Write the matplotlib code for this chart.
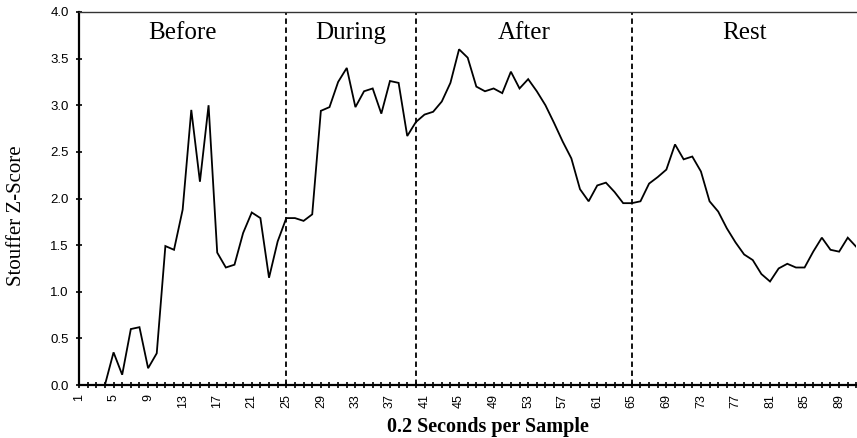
import matplotlib
matplotlib.use("Agg")
import matplotlib.pyplot as plt
import numpy as np

# Stouffer Z-score per 0.2 s sample
samples = list(range(1, 92))
z_scores = [
    0.00, 0.00, 0.00, 0.00, 0.35, 0.11, 0.60, 0.62, 0.18, 0.34,
    1.49, 1.45, 1.88, 2.95, 2.18, 3.00, 1.42, 1.26, 1.29, 1.63,
    1.85, 1.79, 1.15, 1.54, 1.79,
    1.79, 1.76, 1.83, 2.94, 2.98, 3.25, 3.40, 2.98, 3.15, 3.18,
    2.91, 3.26, 3.24, 2.67, 2.82,
    2.90, 2.93, 3.04, 3.24, 3.60, 3.51, 3.20, 3.15, 3.18, 3.13,
    3.36, 3.18, 3.28, 3.15, 3.00, 2.81, 2.61, 2.43, 2.10, 1.97,
    2.14, 2.17, 2.07, 1.95, 1.95,
    1.97, 2.16, 2.23, 2.31, 2.58, 2.42, 2.45, 2.29, 1.97, 1.86,
    1.68, 1.53, 1.40, 1.34, 1.19, 1.11, 1.25, 1.30, 1.26, 1.26,
    1.43, 1.58, 1.45, 1.43, 1.58, 1.48,
]

# Phase names and the sample numbers that separate them
phases = ["Before", "During", "After", "Rest"]
phase_edges = [1, 25, 40, 65, 91]

y_ticks = [0.0, 0.5, 1.0, 1.5, 2.0, 2.5, 3.0, 3.5, 4.0]
x_label_samples = list(range(1, 92, 4))

W, H = 857, 438
fig = plt.figure(figsize=(W / 100, H / 100), dpi=100)
ax = fig.add_axes([79 / W, 1 - 385 / H, (856.4 - 79) / W, (385 - 12) / H])

ax.plot(samples, z_scores, color="black", linewidth=1.3, solid_joinstyle="miter")

for edge in phase_edges[1:-1]:
    ax.axvline(edge, color="black", linewidth=1.3, linestyle=(0, (3.0, 2.0)))

for name, lo, hi in zip(phases, phase_edges[:-1], phase_edges[1:]):
    ax.text((lo + hi) / 2, 3.71, name, ha="center", va="baseline",
            family="Liberation Serif", fontsize=18)

ax.set_xlim(1, 91)
ax.set_ylim(0, 4.0)

ax.set_xticks(samples, minor=True)
ax.set_xticks(x_label_samples)
ax.set_xticklabels([str(s) for s in x_label_samples], rotation=90,
                   family="Liberation Sans", fontsize=9, va="top", ha="center")
ax.set_yticks(y_ticks)
ax.set_yticklabels([f"{t:.1f}" for t in y_ticks], family="Liberation Sans", fontsize=9.5)

ax.tick_params(axis="x", which="both", direction="inout", length=5, width=1.2, pad=4)
ax.tick_params(axis="y", direction="inout", length=5, width=1.2, pad=5)

for side in ("left", "bottom"):
    ax.spines[side].set_linewidth(1.6)
ax.spines["top"].set_linewidth(1.0)
ax.spines["top"].set_color("#333333")
ax.spines["right"].set_visible(False)

fig.text(17 / W, 1 - 216 / H, "Stouffer Z-Score", rotation=90, ha="center", va="center",
         family="Liberation Serif", fontsize=15)
fig.text(488 / W, 1 - 432 / H, "0.2 Seconds per Sample", ha="center", va="baseline",
         family="Liberation Serif", fontsize=14.5, fontweight="bold")

fig.savefig("out.png", dpi=100)
